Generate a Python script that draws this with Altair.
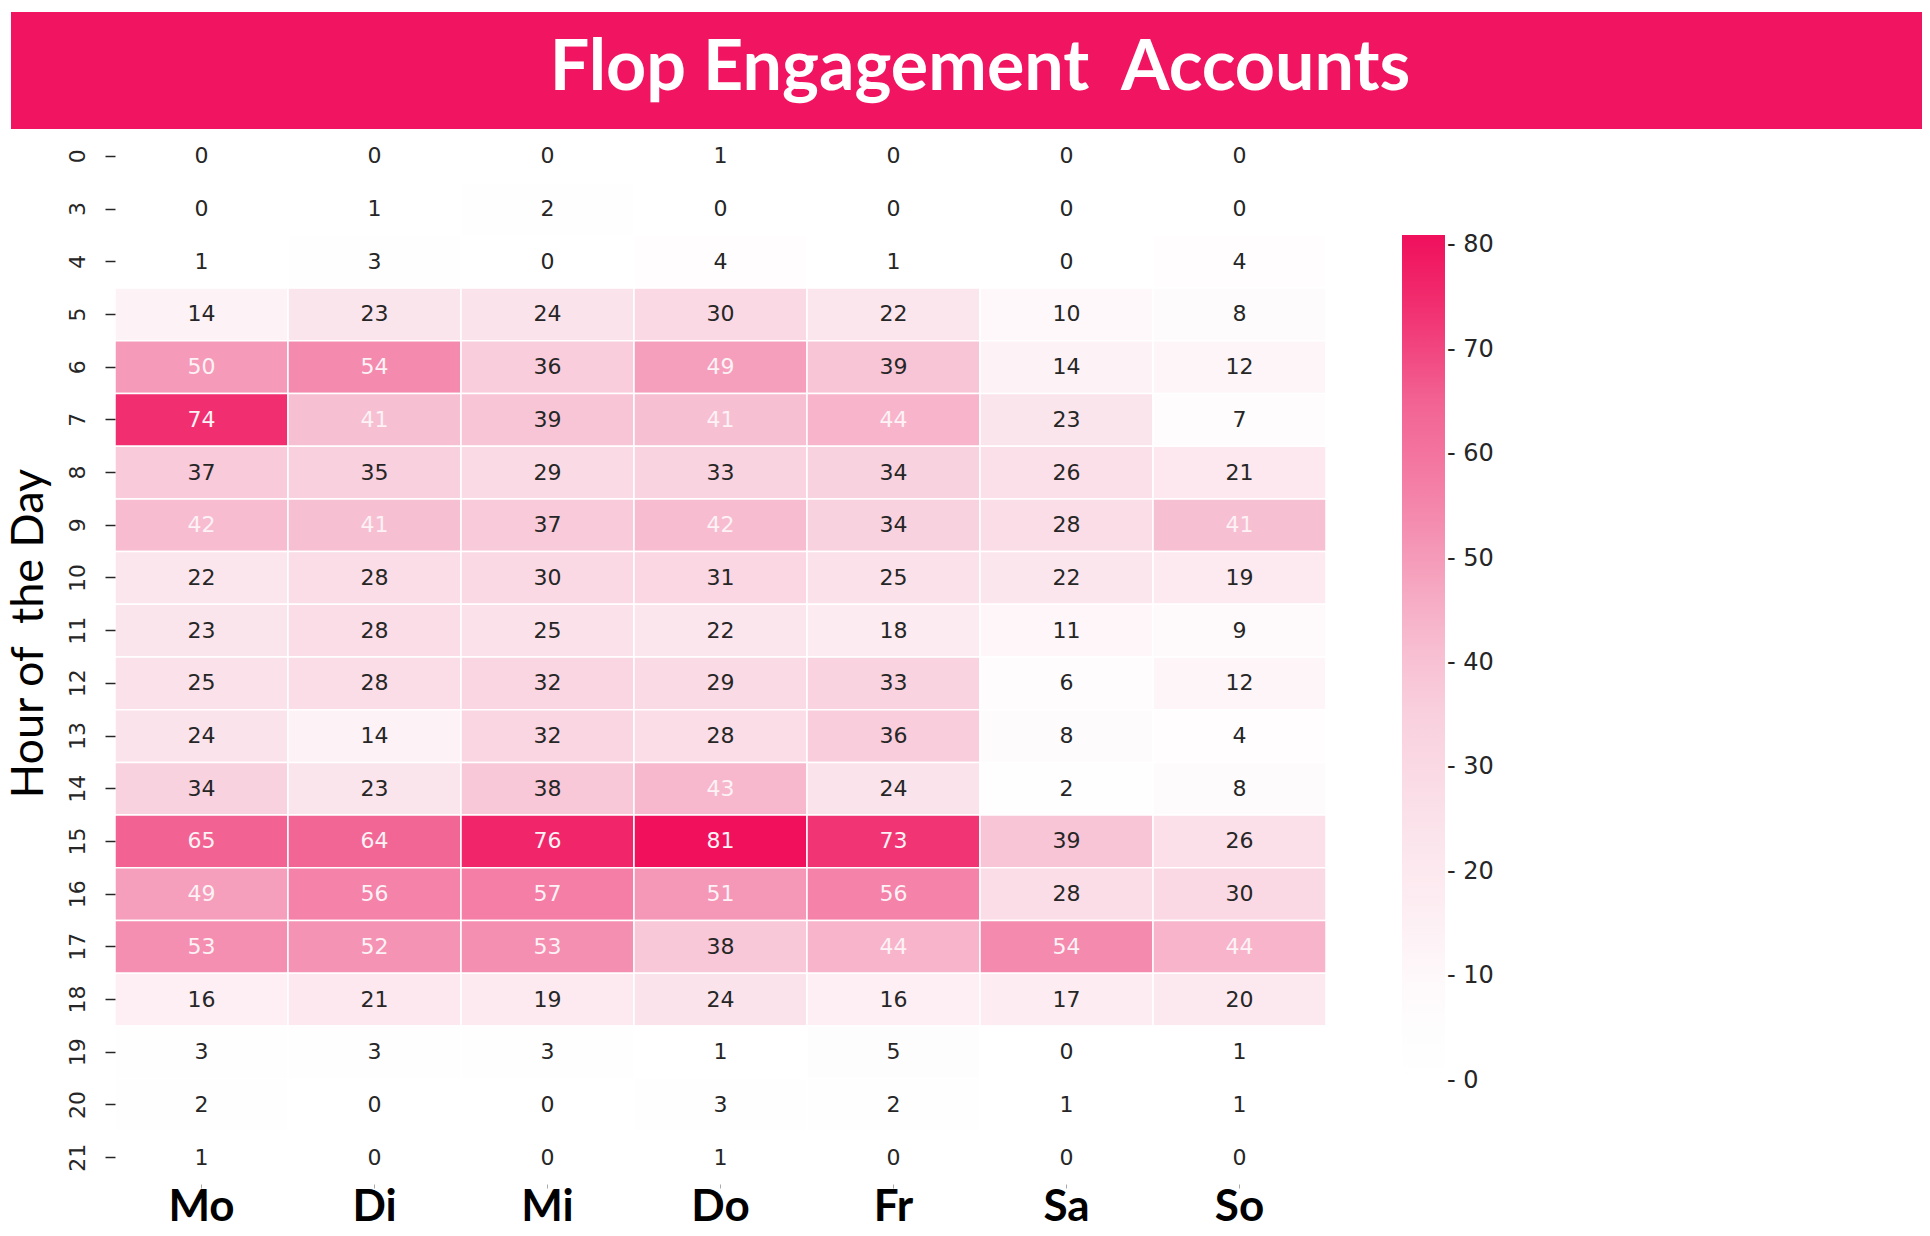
import altair as alt
import pandas as pd

title_text = "Flop Engagement\u00a0 Accounts"
y_title = "Hour of\u00a0 the Day"

days = ["Mo", "Di", "Mi", "Do", "Fr", "Sa", "So"]
hours = ["0", "3", "4", "5", "6", "7", "8", "9", "10", "11", "12",
         "13", "14", "15", "16", "17", "18", "19", "20", "21"]

h0 = [0, 0, 0, 1, 0, 0, 0]
h3 = [0, 1, 2, 0, 0, 0, 0]
h4 = [1, 3, 0, 4, 1, 0, 4]
h5 = [14, 23, 24, 30, 22, 10, 8]
h6 = [50, 54, 36, 49, 39, 14, 12]
h7 = [74, 41, 39, 41, 44, 23, 7]
h8 = [37, 35, 29, 33, 34, 26, 21]
h9 = [42, 41, 37, 42, 34, 28, 41]
h10 = [22, 28, 30, 31, 25, 22, 19]
h11 = [23, 28, 25, 22, 18, 11, 9]
h12 = [25, 28, 32, 29, 33, 6, 12]
h13 = [24, 14, 32, 28, 36, 8, 4]
h14 = [34, 23, 38, 43, 24, 2, 8]
h15 = [65, 64, 76, 81, 73, 39, 26]
h16 = [49, 56, 57, 51, 56, 28, 30]
h17 = [53, 52, 53, 38, 44, 54, 44]
h18 = [16, 21, 19, 24, 16, 17, 20]
h19 = [3, 3, 3, 1, 5, 0, 1]
h20 = [2, 0, 0, 3, 2, 1, 1]
h21 = [1, 0, 0, 1, 0, 0, 0]

rows = [h0, h3, h4, h5, h6, h7, h8, h9, h10, h11, h12, h13, h14, h15,
        h16, h17, h18, h19, h20, h21]

color_stops = [-1, 0, 8, 15, 25, 35, 42, 50, 57, 65, 74, 81]
color_range = ["#ffffff", "#ffffff", "#fefbfc", "#fdf0f4", "#fbe2ea",
               "#f9d0de", "#f7bcd0", "#f59bb9", "#f47ea6", "#f26393",
               "#f12f70", "#f0105c"]
legend_ticks = [0, 10, 20, 30, 40, 50, 60, 70, 80]

records = []
for h, vals in zip(hours, rows):
    for d, v in zip(days, vals):
        records.append({"hour": h, "day": d, "value": v})
df = pd.DataFrame(records)

W, H = 1211, 1054
PL, PT, PR, PB = 107, 122, 596, 40

x_enc = alt.X("day:N", sort=days, title=None,
              axis=alt.Axis(labelFont="Lato", labelFontWeight="bold",
                            labelFontSize=44, labelColor="#000000",
                            labelAngle=0, labelBaseline="alphabetic",
                            labelPadding=32, tickSize=4, tickColor="#aaaaaa",
                            tickWidth=1, domain=False, grid=False))
y_enc = alt.Y("hour:N", sort=hours, title=y_title,
              axis=alt.Axis(labelFont="DejaVu Sans", labelFontSize=22,
                            labelColor="#262626", labelAngle=270,
                            labelAlign="center", labelBaseline="alphabetic",
                            labelPadding=21, tickSize=10, tickColor="#262626",
                            tickWidth=1.5, domain=False, grid=False,
                            titleFont="Lato", titleFontSize=45,
                            titleFontWeight="normal", titleColor="#000000",
                            titleAngle=270, titleAlign="center",
                            titleBaseline="alphabetic", titleX=-73, titleY=503))

base = alt.Chart(df)

cells = base.mark_rect(stroke="white", strokeWidth=1.5).encode(
    x=x_enc,
    y=y_enc,
    color=alt.Color("value:Q", title=None,
                    scale=alt.Scale(domain=color_stops, range=color_range,
                                    interpolate="rgb"),
                    legend=alt.Legend(orient="none", legendX=1287, legendY=105,
                                      direction="vertical",
                                      gradientLength=856,
                                      gradientThickness=43,
                                      gradientStrokeWidth=0,
                                      values=legend_ticks,
                                      labelExpr="'- ' + datum.label",
                                      labelFont="DejaVu Sans",
                                      labelFontSize=24,
                                      labelColor="#262626",
                                      labelBaseline="middle",
                                      labelOffset=2,
                                      padding=0)),
)

labels = base.mark_text(font="DejaVu Sans", fontSize=22, baseline="middle").encode(
    x=alt.X("day:N", sort=days),
    y=alt.Y("hour:N", sort=hours),
    text=alt.Text("value:Q"),
    color=alt.condition("datum.value >= 40", alt.value("#fdf2f6"),
                        alt.value("#262626")),
)

banner_df = pd.DataFrame({"t": [title_text]})
banner = alt.Chart(banner_df).mark_rect(color="#f01461").encode(
    x=alt.value(-104), x2=alt.value(W + PR),
    y=alt.value(-118), y2=alt.value(-1),
)
banner_text = alt.Chart(banner_df).mark_text(
    font="Lato", fontWeight="bold", fontSize=70, color="white",
    align="center", baseline="alphabetic").encode(
    x=alt.value(865), y=alt.value(-40), text="t:N",
)

chart = alt.layer(banner, banner_text, cells, labels).properties(
    width=W, height=H,
    padding={"left": PL, "top": PT, "right": PR, "bottom": PB},
    autosize=alt.AutoSizeParams(type="none"),
).configure_view(strokeWidth=0).configure_scale(
    bandPaddingInner=0, bandPaddingOuter=0)

chart.save("out.html", embed_options={"renderer": "svg", "actions": False})
